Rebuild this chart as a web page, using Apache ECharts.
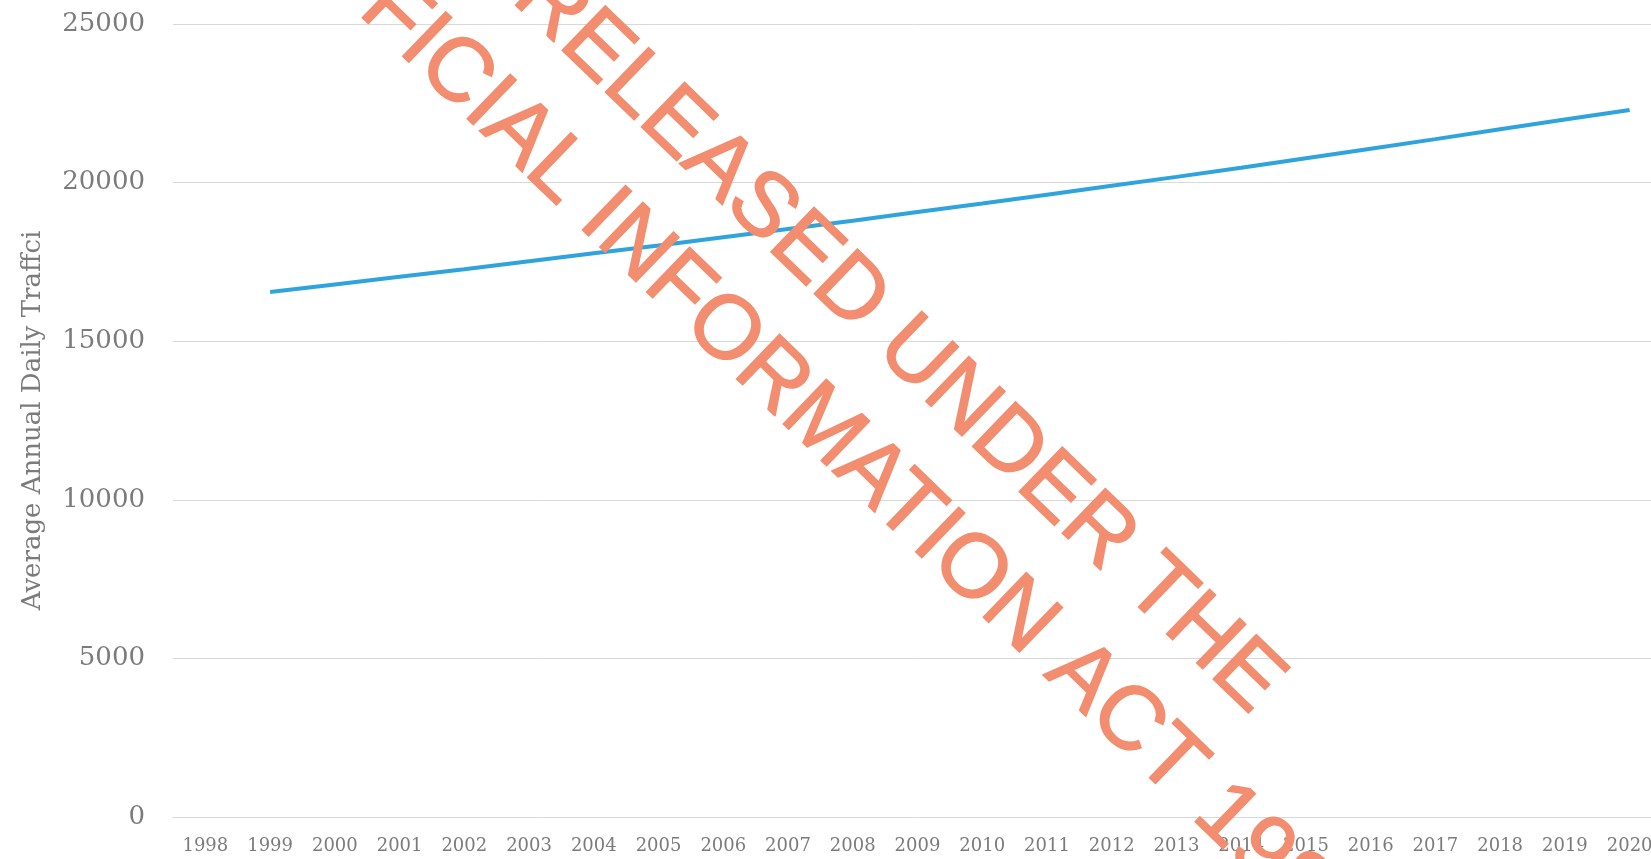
<!DOCTYPE html>
<html>
<head>
<meta charset="utf-8">
<script src="https://cdn.jsdelivr.net/npm/echarts@6/dist/echarts.min.js"></script>
<style>
  html, body { margin: 0; padding: 0; background: #ffffff; }
  #chart { width: 1651px; height: 859px; }
</style>
</head>
<body>
<div id="chart"></div>
<script>
// Years on the category axis
const years = ['1998','1999','2000','2001','2002','2003','2004','2005','2006','2007','2008',
               '2009','2010','2011','2012','2013','2014','2015','2016','2017','2018','2019','2020'];

// Average annual daily traffic per year (no count for 1998)
const aadt = [null, 16550, 16790, 17030, 17270, 17520, 17770, 18020, 18280, 18540, 18800,
              19070, 19340, 19620, 19900, 20180, 20470, 20770, 21070, 21370, 21680, 21990, 22290];

// Value axis range
const yMin = 0;
const yMax = 25000;
const yStep = 5000;

// Release stamp text
const stampLines = ['RELEASED UNDER THE', 'OFFICIAL INFORMATION ACT 1982'];

const labelGrey = '#7b7b7b';
const serif = '"DejaVu Serif", "Liberation Serif", serif';
const stampColor = '#f38d6f';
const stampFont = '90px "Liberation Sans", Arial, sans-serif';
const stampAngle = -44 * Math.PI / 180;

const chart = echarts.init(document.getElementById('chart'), null, { renderer: 'canvas' });

function stamp(text, x, y) {
  return {
    type: 'text',
    x: x, y: y,
    rotation: stampAngle,
    z: 100,
    silent: true,
    style: {
      text: text,
      fill: stampColor,
      stroke: stampColor,
      lineWidth: 1.5,
      font: stampFont,
      align: 'center',
      verticalAlign: 'middle'
    }
  };
}

chart.setOption({
  backgroundColor: '#ffffff',
  animation: false,
  grid: { left: 173, right: -11, top: 24, bottom: 42, outerBoundsMode: 'none', containLabel: false },
  xAxis: {
    type: 'category',
    data: years,
    boundaryGap: true,
    axisLine: { show: true, lineStyle: { color: '#d9d9d9', width: 1 } },
    axisTick: { show: false },
    axisLabel: { interval: 0, margin: 20, fontSize: 18, color: labelGrey, fontFamily: serif, hideOverlap: false },
    splitLine: { show: false }
  },
  yAxis: {
    type: 'value',
    min: yMin,
    max: yMax,
    interval: yStep,
    name: 'Average Annual Daily Traffci',
    nameLocation: 'middle',
    nameRotate: 90,
    nameGap: 127,
    nameTextStyle: { fontSize: 26, color: labelGrey, fontFamily: serif },
    axisLine: { show: false },
    axisTick: { show: false },
    axisLabel: {
      margin: 28, fontSize: 26, color: labelGrey, fontFamily: serif,
      formatter: (v) => String(v)
    },
    splitLine: { show: true, lineStyle: { color: '#d9d9d9', width: 1 } }
  },
  series: [{
    type: 'line',
    data: aadt,
    showSymbol: false,
    symbol: 'none',
    connectNulls: false,
    lineStyle: { color: '#2fa3dc', width: 4 },
    itemStyle: { color: '#2fa3dc' }
  }],
  graphic: [
    stamp(stampLines[0], 898, 340),
    stamp(stampLines[1], 818, 423)
  ]
});
</script>
</body>
</html>
